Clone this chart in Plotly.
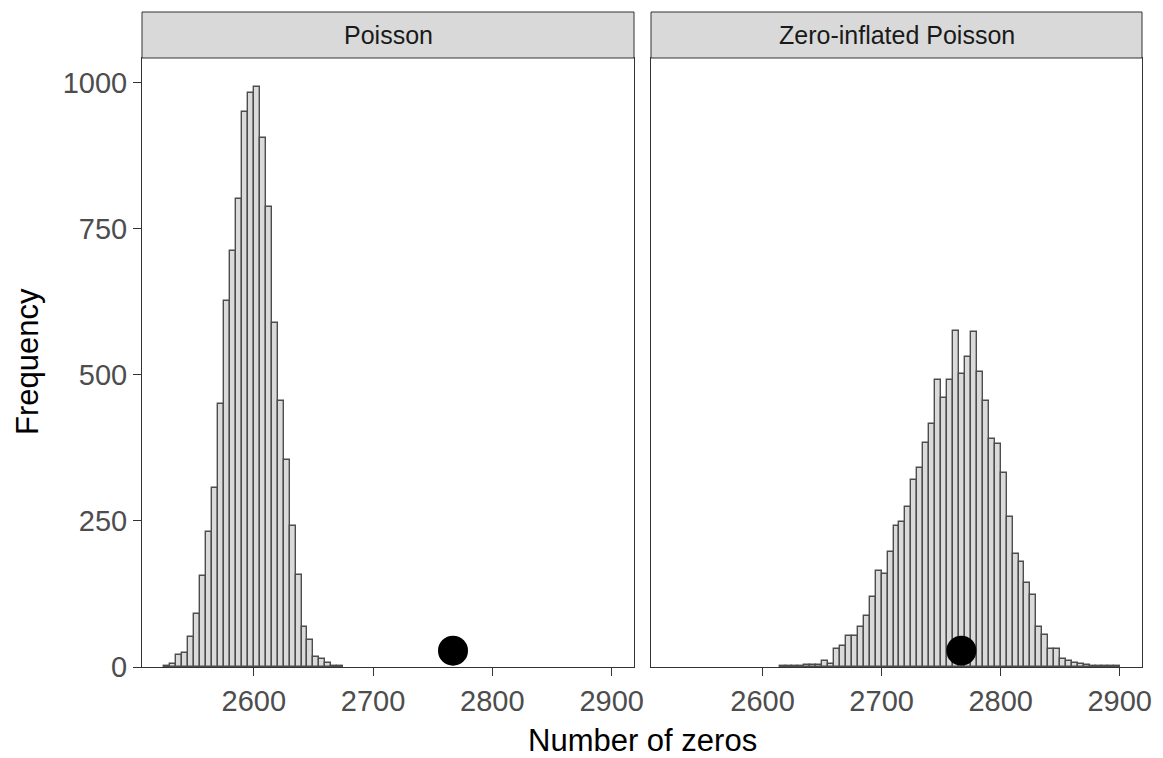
import plotly.graph_objects as go

# ---- data ----
bin_width = 5
panels = ["Poisson", "Zero-inflated Poisson"]

pois_bin_start = [2525, 2530, 2535, 2540, 2545, 2550, 2555, 2560, 2565, 2570,
                  2575, 2580, 2585, 2590, 2595, 2600, 2605, 2610, 2615, 2620,
                  2625, 2630, 2635, 2640, 2645, 2650, 2655, 2660, 2665, 2670]
pois_counts = [2, 5, 20, 24, 51, 90, 155, 231, 306, 451,
               626, 712, 802, 951, 982, 993, 906, 787, 589, 456,
               354, 242, 157, 69, 47, 17, 14, 7, 2, 1]

zip_bin_start = [2615, 2620, 2625, 2630, 2635, 2640, 2645, 2650, 2655, 2660,
                 2665, 2670, 2675, 2680, 2685, 2690, 2695, 2700, 2705, 2710,
                 2715, 2720, 2725, 2730, 2735, 2740, 2745, 2750, 2755, 2760,
                 2765, 2770, 2775, 2780, 2785, 2790, 2795, 2800, 2805, 2810,
                 2815, 2820, 2825, 2830, 2835, 2840, 2845, 2850, 2855, 2860,
                 2865, 2870, 2875, 2880, 2885, 2890, 2895]
zip_counts = [1, 1, 2, 2, 3, 3, 3, 10, 6, 31,
              36, 53, 53, 68, 87, 120, 164, 159, 197, 241,
              248, 274, 320, 341, 384, 416, 491, 461, 491, 576,
              502, 531, 573, 505, 455, 390, 381, 332, 256, 193,
              180, 143, 123, 68, 54, 31, 30, 14, 11, 7,
              5, 3, 2, 1, 1, 1, 1]

observed_zeros = 2767
observed_y = 28

x_ticks = [2600, 2700, 2800, 2900]
y_ticks = [0, 250, 500, 750, 1000]

# ---- figure ----
W, H = 1163, 758
FONT = "Liberation Sans, Arial, Helvetica, sans-serif"
BAR_FILL = "#DADADA"
BAR_LINE = "#4D4D4D"
FRAME = "#333333"

fig = go.Figure()

for (starts, counts, xa, ya) in [(pois_bin_start, pois_counts, "x", "y"),
                                 (zip_bin_start, zip_counts, "x2", "y2")]:
    fig.add_trace(go.Bar(
        x=starts, y=counts, width=bin_width, offset=0,
        marker=dict(color=BAR_FILL, line=dict(color=BAR_LINE, width=1.4)),
        xaxis=xa, yaxis=ya, hoverinfo="x+y"))
    fig.add_trace(go.Scatter(
        x=[observed_zeros], y=[observed_y], mode="markers",
        marker=dict(color="black", size=30),
        xaxis=xa, yaxis=ya))

def px_x(p):
    return p / W

def px_y(p):
    return (H - p) / H

left_dom = [px_x(142), px_x(634)]
right_dom = [px_x(651), px_x(1142)]
y_dom = [px_y(667), px_y(58)]

xrange = [2506.25, 2918.75]
yrange = [0, 1042.7]

common_x = dict(range=xrange, tickvals=x_ticks, ticks="outside", ticklen=8,
                tickcolor=FRAME, tickwidth=1, showline=True, linecolor=FRAME,
                linewidth=1, mirror=True, showgrid=False, zeroline=False,
                automargin=False,
                tickfont=dict(family=FONT, size=29, color="#4D4D4D"))

fig.update_layout(
    template="none",
    width=W, height=H,
    margin=dict(l=0, r=0, t=0, b=0, pad=0),
    paper_bgcolor="white", plot_bgcolor="white",
    showlegend=False, bargap=0,
    font=dict(family=FONT),
    xaxis=dict(domain=left_dom, anchor="y", **common_x),
    xaxis2=dict(domain=right_dom, anchor="y2", **common_x),
    yaxis=dict(domain=y_dom, anchor="x", range=yrange, tickvals=y_ticks,
               ticks="outside", ticklen=8, tickcolor=FRAME, tickwidth=1,
               showline=True, linecolor=FRAME, linewidth=1, mirror=True,
               showgrid=False, zeroline=False, automargin=False,
               tickfont=dict(family=FONT, size=29, color="#4D4D4D")),
    yaxis2=dict(domain=y_dom, anchor="x2", range=yrange, showticklabels=False,
                ticks="", showline=True, linecolor=FRAME, linewidth=1,
                mirror=True, showgrid=False, zeroline=False, automargin=False),
)

shapes = []
annotations = []
for dom, name in [(left_dom, panels[0]), (right_dom, panels[1])]:
    shapes.append(dict(type="rect", xref="paper", yref="paper",
                       x0=dom[0], x1=dom[1], y0=px_y(58), y1=px_y(12),
                       fillcolor="#D9D9D9", line=dict(color=FRAME, width=1)))
    annotations.append(dict(text=name, xref="paper", yref="paper",
                            x=(dom[0] + dom[1]) / 2, y=px_y(35),
                            xanchor="center", yanchor="middle", showarrow=False,
                            font=dict(family=FONT, size=25, color="#1A1A1A")))

annotations.append(dict(text="Number of zeros", xref="paper", yref="paper",
                        x=px_x(642), y=px_y(740), xanchor="center",
                        yanchor="middle", showarrow=False,
                        font=dict(family=FONT, size=31, color="black")))
annotations.append(dict(text="Frequency", xref="paper", yref="paper",
                        x=px_x(28), y=px_y(362), xanchor="center",
                        yanchor="middle", showarrow=False, textangle=-90,
                        font=dict(family=FONT, size=31, color="black")))

fig.update_layout(shapes=shapes, annotations=annotations)

fig.write_html("out.html")
